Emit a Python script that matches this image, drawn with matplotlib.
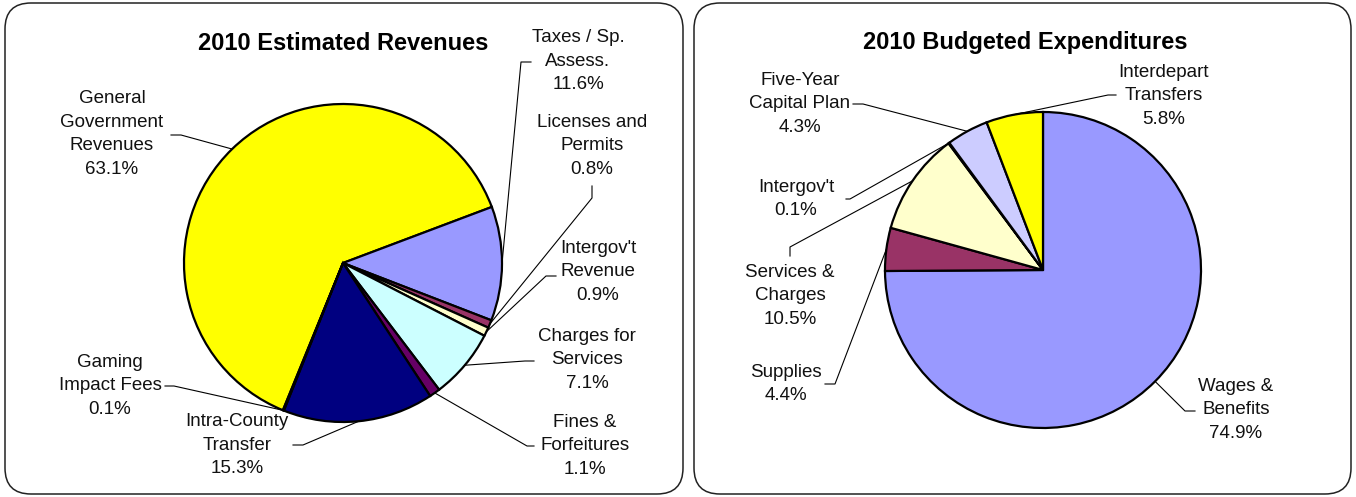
import numpy as np
import matplotlib
matplotlib.use('Agg')
from matplotlib import pyplot as plt
from matplotlib.patches import FancyBboxPatch

plt.rcParams['font.family'] = ['Liberation Sans', 'DejaVu Sans']

W, H = 1356, 497

# 2010 Estimated Revenues (clockwise order)
rev_labels = ['General\nGovernment\nRevenues', 'Taxes / Sp.\nAssess.', 'Licenses and\nPermits',
              "Intergov't\nRevenue", 'Charges for\nServices', 'Fines &\nForfeitures',
              'Intra-County\nTransfer', 'Gaming\nImpact Fees']
rev_pct = [63.1, 11.6, 0.8, 0.9, 7.1, 1.1, 15.3, 0.1]
rev_colors = ['#FFFF00', '#9999FF', '#993366', '#FFFFCC', '#CCFFFF', '#660066', '#000080', '#993399']

# 2010 Budgeted Expenditures
exp_labels = ['Wages &\nBenefits', 'Supplies', 'Services &\nCharges', "Intergov't",
              'Five-Year\nCapital Plan', 'Interdepart\nTransfers']
exp_pct = [74.9, 4.4, 10.5, 0.1, 4.3, 5.8]
exp_colors = ['#9999FF', '#993366', '#FFFFCC', '#000080', '#CCCCFF', '#FFFF00']

# label layout in pixels: text centre, leader elbow, leader end at the text
rev_text = [(112, 134), (578, 61), (592, 146), (598, 272), (587, 360), (585, 446), (237, 445), (110, 386)]
rev_elbow = [(181, 135), (521, 62), (592, 198), (546, 276), (525, 361), (527, 446), (303, 445), (174, 386)]
rev_end = [(171, 135), (531, 62), (592, 186), (556, 276), (534, 361), (534, 446), (293, 445), (165, 386)]

exp_text = [(1236, 410), (786, 384), (790, 296), (796, 199), (800, 104), (1164, 96)]
exp_elbow = [(1185, 411), (835, 384), (790, 247), (850, 199), (863, 104), (1108, 95)]
exp_end = [(1195, 411), (825, 384), (790, 256), (846, 199), (853, 104), (1116, 95)]


def py(y):
    return H - y


fig = plt.figure(figsize=(W / 100, H / 100), dpi=100)
ax = fig.add_axes([0, 0, 1, 1])

# rounded panel frames
for x0, x1 in [(5, 683), (694, 1351)]:
    ax.add_patch(FancyBboxPatch((x0, py(494)), x1 - x0, 491,
                                boxstyle='round,pad=0,rounding_size=26',
                                fc='white', ec='#222222', lw=1.1, zorder=0))


def draw_pie(vals, labels, colors, center, radius, start, texts, elbows, ends, title, tpos):
    cx, cy = center[0], py(center[1])
    wedges, _ = ax.pie(vals, colors=colors, startangle=start, counterclock=False,
                       center=(cx, cy), radius=radius,
                       wedgeprops=dict(edgecolor='black', linewidth=1.6))
    for w, lab, v, tp, el, en in zip(wedges, labels, vals, texts, elbows, ends):
        mid = np.deg2rad((w.theta1 + w.theta2) / 2)
        px0 = cx + radius * np.cos(mid)
        py0 = cy + radius * np.sin(mid)
        ax.plot([px0, el[0], en[0]], [py0, py(el[1]), py(en[1])], color='black', lw=0.8, zorder=5)
        ax.text(tp[0], py(tp[1]), f'{lab}\n{v:.1f}%', ha='center', va='center',
                fontsize=13.5, linespacing=1.52, color='#111111', zorder=6)
    ax.text(tpos[0], py(tpos[1]), title, ha='center', va='center', fontsize=17,
            fontweight='bold', color='black')


draw_pie(rev_pct, rev_labels, rev_colors, (343, 263), 159, 247.8,
         rev_text, rev_elbow, rev_end, '2010 Estimated Revenues', (343, 44))
draw_pie(exp_pct, exp_labels, exp_colors, (1043, 270), 158, 90,
         exp_text, exp_elbow, exp_end, '2010 Budgeted Expenditures', (1025, 42))

ax.set_xlim(0, W)
ax.set_ylim(0, H)
ax.set_aspect('auto')
ax.axis('off')

fig.savefig('out.png', dpi=100)
